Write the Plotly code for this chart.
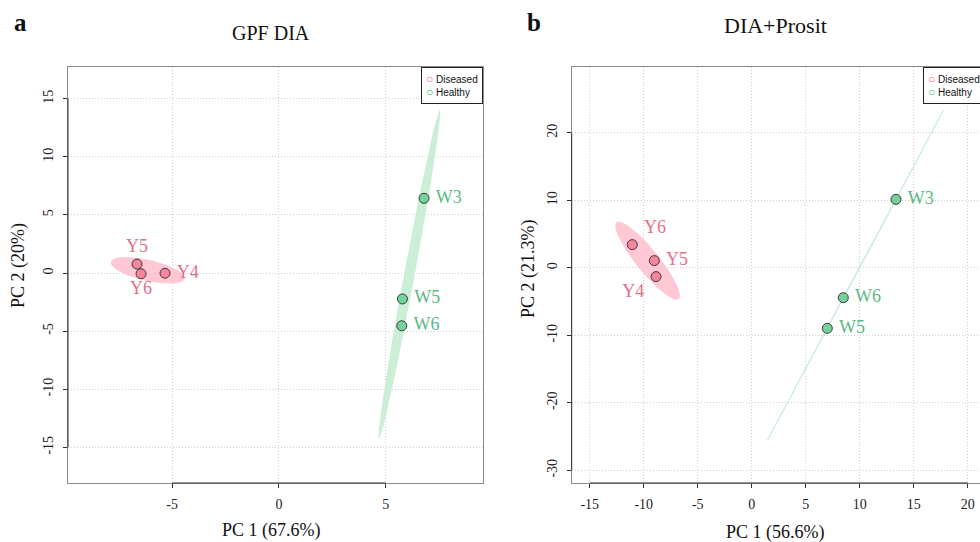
import numpy as np
import plotly.graph_objects as go

W, H = 980, 542

# ---------------- data ----------------
a_dis_labels = ["Y4", "Y5", "Y6"]
a_dis_pc1 = [-5.33, -6.64, -6.45]
a_dis_pc2 = [-0.02, 0.77, -0.06]
a_hea_labels = ["W3", "W5", "W6"]
a_hea_pc1 = [6.79, 5.78, 5.75]
a_hea_pc2 = [6.43, -2.23, -4.54]

b_dis_labels = ["Y4", "Y5", "Y6"]
b_dis_pc1 = [-8.86, -9.02, -11.06]
b_dis_pc2 = [-1.30, 1.07, 3.44]
b_hea_labels = ["W3", "W5", "W6"]
b_hea_pc1 = [13.36, 7.00, 8.48]
b_hea_pc2 = [10.15, -8.96, -4.42]

a_xticks = [-5, 0, 5]
a_yticks = [-15, -10, -5, 0, 5, 10, 15]
b_xticks = [-15, -10, -5, 0, 5, 10, 15, 20]
b_yticks = [-30, -20, -10, 0, 10, 20]

a_dis_textpos = ["middle right", "top center", "bottom center"]
a_hea_textpos = ["middle right", "middle right", "middle right"]
b_dis_textpos = ["bottom left", "middle right", "top right"]
b_hea_textpos = ["middle right", "middle right", "middle right"]

# ---------------- styles ----------------
PINK_FILL = "#f5849c"
PINK_TEXT = "#e5708a"
PINK_ELL = "rgba(255,190,204,0.85)"
GREEN_FILL = "#74d29b"
GREEN_TEXT = "#5bb985"
GREEN_ELL = "rgba(196,236,210,0.9)"
SERIF = "Liberation Serif"
SANS = "Liberation Sans"

CHI2_95 = -2 * np.log(0.05)  # 95% level, 2 d.f.


def ellipse(x, y, n=160):
    x = np.asarray(x, float)
    y = np.asarray(y, float)
    cov = np.cov(x, y)
    vals, vecs = np.linalg.eigh(cov)
    vals = np.clip(vals, 0, None)
    t = np.linspace(0, 2 * np.pi, n)
    circ = np.vstack([np.cos(t), np.sin(t)])
    pts = vecs @ (np.sqrt(vals)[:, None] * circ) * np.sqrt(CHI2_95)
    return x.mean() + pts[0], y.mean() + pts[1]


fig = go.Figure()


def pad_labels(labels, positions):
    out = []
    for lab, pos in zip(labels, positions):
        if pos.endswith("right"):
            out.append("\u00a0" + lab)
        elif pos.endswith("left"):
            out.append(lab + "\u00a0")
        else:
            out.append(lab)
    return out


def add_group(px, py, labels, tpos, fill, tcol, ell, xa, ya, ell_line):
    ex, ey = ellipse(px, py)
    fig.add_trace(go.Scatter(
        x=ex, y=ey, mode="lines", fill="toself", fillcolor=ell,
        line=dict(color=ell_line, width=1), xaxis=xa, yaxis=ya,
        hoverinfo="skip", showlegend=False))
    fig.add_trace(go.Scatter(
        x=px, y=py, mode="markers+text", text=pad_labels(labels, tpos), textposition=tpos,
        textfont=dict(family=SERIF, size=18, color=tcol),
        marker=dict(size=10, color=fill, line=dict(color="#3a3a3a", width=1)),
        xaxis=xa, yaxis=ya, showlegend=False, cliponaxis=False))


add_group(a_dis_pc1, a_dis_pc2, a_dis_labels, a_dis_textpos, PINK_FILL, PINK_TEXT,
          PINK_ELL, "x", "y", "rgba(255,190,204,0.0)")
add_group(a_hea_pc1, a_hea_pc2, a_hea_labels, a_hea_textpos, GREEN_FILL, GREEN_TEXT,
          GREEN_ELL, "x", "y", "rgba(196,236,210,0.0)")
add_group(b_dis_pc1, b_dis_pc2, b_dis_labels, b_dis_textpos, PINK_FILL, PINK_TEXT,
          PINK_ELL, "x2", "y2", "rgba(255,190,204,0.0)")
add_group(b_hea_pc1, b_hea_pc2, b_hea_labels, b_hea_textpos, GREEN_FILL, GREEN_TEXT,
          GREEN_ELL, "x2", "y2", "rgba(200,236,214,0.9)")


def px_x(p):
    return p / W


def px_y(p):
    return 1 - p / H


common = dict(
    showline=True, mirror=True, linecolor="#8c8c8c", linewidth=1,
    ticks="outside", ticklen=4, tickwidth=1, tickcolor="#333333",
    showgrid=True, gridcolor="#cfcfcf", griddash="1px,2px", gridwidth=1,
    zeroline=False, tickfont=dict(family=SERIF, size=14, color="#222222"),
)

ydom = [px_y(483), px_y(67)]

fig.update_layout(
    width=W, height=H, margin=dict(l=0, r=0, t=0, b=0),
    paper_bgcolor="white", plot_bgcolor="white", showlegend=False,
    xaxis=dict(domain=[px_x(68), px_x(483)], range=[-9.87, 9.55],
               tickvals=a_xticks, ticktext=[str(v) for v in a_xticks],
               anchor="y", ticklabelstandoff=4, **common),
    yaxis=dict(domain=ydom, range=[-18.07, 17.73],
               tickvals=a_yticks, ticktext=[str(v) for v in a_yticks],
               anchor="x", tickangle=-90, ticklabelstandoff=4, **common),
    xaxis2=dict(domain=[px_x(571.7), 1.0], range=[-16.67, 21.14],
                tickvals=b_xticks, ticktext=[str(v) for v in b_xticks],
                anchor="y2", ticklabelstandoff=4, **common),
    yaxis2=dict(domain=ydom, range=[-31.88, 29.76],
                tickvals=b_yticks, ticktext=[str(v) for v in b_yticks],
                anchor="x2", tickangle=-90, ticklabelstandoff=4, **common),
)

# darker R-style axis segments spanning first..last tick
shapes = []
for xa, ya, xt, yt in [("x", "y", a_xticks, a_yticks), ("x2", "y2", b_xticks, b_yticks)]:
    shapes.append(dict(type="line", xref=xa, yref=ya + " domain", x0=min(xt), x1=max(xt),
                       y0=0, y1=0, line=dict(color="#333333", width=1)))
    shapes.append(dict(type="line", xref=xa + " domain", yref=ya, x0=0, x1=0,
                       y0=min(yt), y1=max(yt), line=dict(color="#333333", width=1)))
fig.update_layout(shapes=shapes)

legend_text = ("<span style='color:#ff5a86;font-size:12px'>○</span> Diseased<br>"
               "<span style='color:#22c06a;font-size:12px'>○</span> Healthy")

ann = []
# legends
ann.append(dict(text=legend_text, xref="x domain", yref="y domain", x=1, y=1,
                xanchor="right", yanchor="top", showarrow=False, align="left",
                font=dict(family=SANS, size=10, color="#111111"),
                bgcolor="white", bordercolor="#222222", borderwidth=1, borderpad=4))
ann.append(dict(text=legend_text, xref="x2 domain", yref="y2 domain",
                x=(923.3 - 571.7) / (980 - 571.7), y=1,
                xanchor="left", yanchor="top", showarrow=False, align="left",
                font=dict(family=SANS, size=10, color="#111111"),
                bgcolor="white", bordercolor="#222222", borderwidth=1, borderpad=4))


def text_ann(txt, x, y, size, bold=False, angle=0):
    return dict(text=("<b>%s</b>" % txt) if bold else txt, xref="paper", yref="paper",
                x=px_x(x), y=px_y(y), xanchor="center", yanchor="middle",
                showarrow=False, textangle=angle,
                font=dict(family=SERIF, size=size, color="#111111"))


ann += [
    text_ann("a", 20, 22, 25, bold=True),
    text_ann("b", 534, 22, 25, bold=True),
    text_ann("GPF DIA", 271, 33, 20),
    text_ann("DIA+Prosit", 775, 25, 22),
    text_ann("PC 1 (67.6%)", 271, 530, 18),
    text_ann("PC 1 (56.6%)", 775, 532, 18),
    text_ann("PC 2 (20%)", 18, 266, 18, angle=-90),
    text_ann("PC 2 (21.3%)", 528, 269, 18, angle=-90),
]
fig.update_layout(annotations=ann)

fig.write_html("out.html")
